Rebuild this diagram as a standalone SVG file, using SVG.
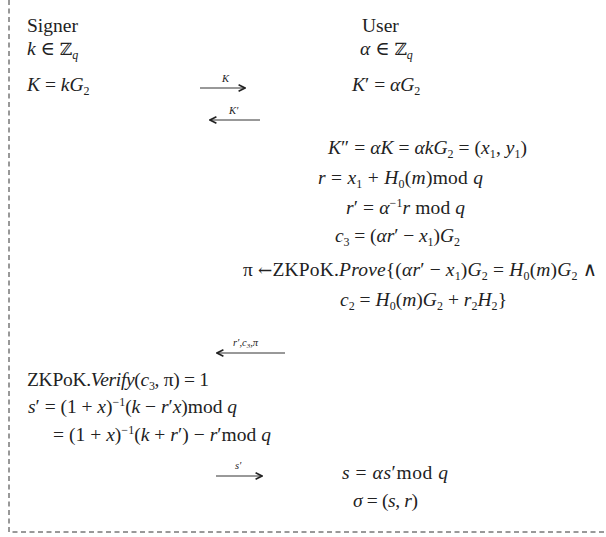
<svg xmlns="http://www.w3.org/2000/svg" width="606" height="537" viewBox="0 0 606 537">
<style>
.t{font-family:'Liberation Serif','DejaVu Serif','Times New Roman',serif;font-size:19.5px;fill:#222}
.i{font-style:italic}
.s{font-size:12px}
.z{font-family:'DejaVu Serif',serif;font-size:17px}
.lb{font-family:'Liberation Serif','DejaVu Serif',serif;font-size:10.5px;font-style:italic;fill:#222}
.ar{stroke:#333;stroke-width:1;fill:none}
.frame{stroke:#333;stroke-width:1;fill:none;stroke-dasharray:5 3.5}
</style>
<defs>
<marker id="ah" viewBox="0 0 10 10" refX="9" refY="5" markerWidth="8" markerHeight="8" markerUnits="userSpaceOnUse" orient="auto-start-reverse">
<path d="M1,1 L9,5 L1,9" fill="none" stroke="#222" stroke-width="2"/>
</marker>
</defs>
<rect width="606" height="537" fill="#fff"/>
<g id="frame"><path class="frame" d="M9,0 V532 H606"/></g>

<g id="signer">
<text class="t" x="27" y="32">Signer</text>
<text class="t" x="27" y="55"><tspan class="i">k</tspan> ∈ <tspan class="z">ℤ</tspan><tspan class="s i" dy="4">q</tspan></text>
<text class="t" x="27" y="91"><tspan class="i">K</tspan> = <tspan class="i">kG</tspan><tspan class="s" dy="4">2</tspan></text>
<text class="t" x="27" y="386" textLength="182">ZKPoK.<tspan class="i">Verify</tspan>(<tspan class="i">c</tspan><tspan class="s" dy="4">3</tspan><tspan dy="-4">, π) = 1</tspan></text>
<text class="t" x="28" y="413" textLength="209"><tspan class="i">s</tspan>′ = (1 + <tspan class="i">x</tspan>)<tspan class="s" dy="-7">−1</tspan><tspan dy="7">(</tspan><tspan class="i">k</tspan> − <tspan class="i">r</tspan>′<tspan class="i">x</tspan>)mod <tspan class="i">q</tspan></text>
<text class="t" x="53" y="441" textLength="218">= (1 + <tspan class="i">x</tspan>)<tspan class="s" dy="-7">−1</tspan><tspan dy="7">(</tspan><tspan class="i">k</tspan> + <tspan class="i">r</tspan>′) − <tspan class="i">r</tspan>′mod <tspan class="i">q</tspan></text>
</g>

<g id="user">
<text class="t" x="362" y="32">User</text>
<text class="t" x="360" y="55"><tspan class="i">α</tspan> ∈ <tspan class="z">ℤ</tspan><tspan class="s i" dy="4">q</tspan></text>
<text class="t" x="352" y="91"><tspan class="i">K</tspan>′ = <tspan class="i">αG</tspan><tspan class="s" dy="4">2</tspan></text>
<text class="t" x="328" y="154" textLength="199"><tspan class="i">K</tspan>″ = <tspan class="i">αK</tspan> = <tspan class="i">αkG</tspan><tspan class="s" dy="4">2</tspan><tspan dy="-4"> = (</tspan><tspan class="i">x</tspan><tspan class="s" dy="4">1</tspan><tspan dy="-4">, </tspan><tspan class="i">y</tspan><tspan class="s" dy="4">1</tspan><tspan dy="-4">)</tspan></text>
<text class="t" x="318" y="184" textLength="165"><tspan class="i">r</tspan> = <tspan class="i">x</tspan><tspan class="s" dy="4">1</tspan><tspan dy="-4"> + </tspan><tspan class="i">H</tspan><tspan class="s" dy="4">0</tspan><tspan dy="-4">(</tspan><tspan class="i">m</tspan>)mod <tspan class="i">q</tspan></text>
<text class="t" x="346" y="214" textLength="119"><tspan class="i">r</tspan>′ = <tspan class="i">α</tspan><tspan class="s" dy="-7">−1</tspan><tspan class="i" dy="7">r </tspan>mod <tspan class="i">q</tspan></text>
<text class="t" x="335" y="242" textLength="125"><tspan class="i">c</tspan><tspan class="s" dy="4">3</tspan><tspan dy="-4"> = (</tspan><tspan class="i">αr</tspan>′ − <tspan class="i">x</tspan><tspan class="s" dy="4">1</tspan><tspan dy="-4">)</tspan><tspan class="i">G</tspan><tspan class="s" dy="4">2</tspan></text>
<text class="t" x="243" y="276" textLength="354">π <tspan class="z">←</tspan>ZKPoK.<tspan class="i">Prove</tspan>{(<tspan class="i">αr</tspan>′ − <tspan class="i">x</tspan><tspan class="s" dy="4">1</tspan><tspan dy="-4">)</tspan><tspan class="i">G</tspan><tspan class="s" dy="4">2</tspan><tspan dy="-4"> = </tspan><tspan class="i">H</tspan><tspan class="s" dy="4">0</tspan><tspan dy="-4">(</tspan><tspan class="i">m</tspan>)<tspan class="i">G</tspan><tspan class="s" dy="4">2</tspan><tspan dy="-4"> ∧</tspan></text>
<text class="t" x="340" y="306" textLength="167"><tspan class="i">c</tspan><tspan class="s" dy="4">2</tspan><tspan dy="-4"> = </tspan><tspan class="i">H</tspan><tspan class="s" dy="4">0</tspan><tspan dy="-4">(</tspan><tspan class="i">m</tspan>)<tspan class="i">G</tspan><tspan class="s" dy="4">2</tspan><tspan dy="-4"> + </tspan><tspan class="i">r</tspan><tspan class="s" dy="4">2</tspan><tspan class="i" dy="-4">H</tspan><tspan class="s" dy="4">2</tspan><tspan dy="-4">}</tspan></text>
<text class="t" x="342" y="479" textLength="106"><tspan class="i">s</tspan> = <tspan class="i">αs</tspan>′mod <tspan class="i">q</tspan></text>
<text class="t" x="353" y="507" textLength="65"><tspan class="i">σ</tspan> = (<tspan class="i">s</tspan>, <tspan class="i">r</tspan>)</text>
</g>

<g id="connectors">
<line class="ar" x1="200" y1="88" x2="245" y2="88" marker-end="url(#ah)"/>
<text class="lb" x="222" y="82">K</text>
<line class="ar" x1="260" y1="120" x2="210" y2="120" marker-end="url(#ah)"/>
<text class="lb" x="229" y="114">K′</text>
<line class="ar" x1="285" y1="353" x2="217" y2="353" marker-end="url(#ah)"/>
<text class="lb" x="233" y="346"><tspan>r′,c</tspan><tspan font-size="7" dy="2">3</tspan><tspan dy="-2">,π</tspan></text>
<line class="ar" x1="216" y1="476" x2="262" y2="476" marker-end="url(#ah)"/>
<text class="lb" x="235" y="469">s′</text>
</g>
</svg>
